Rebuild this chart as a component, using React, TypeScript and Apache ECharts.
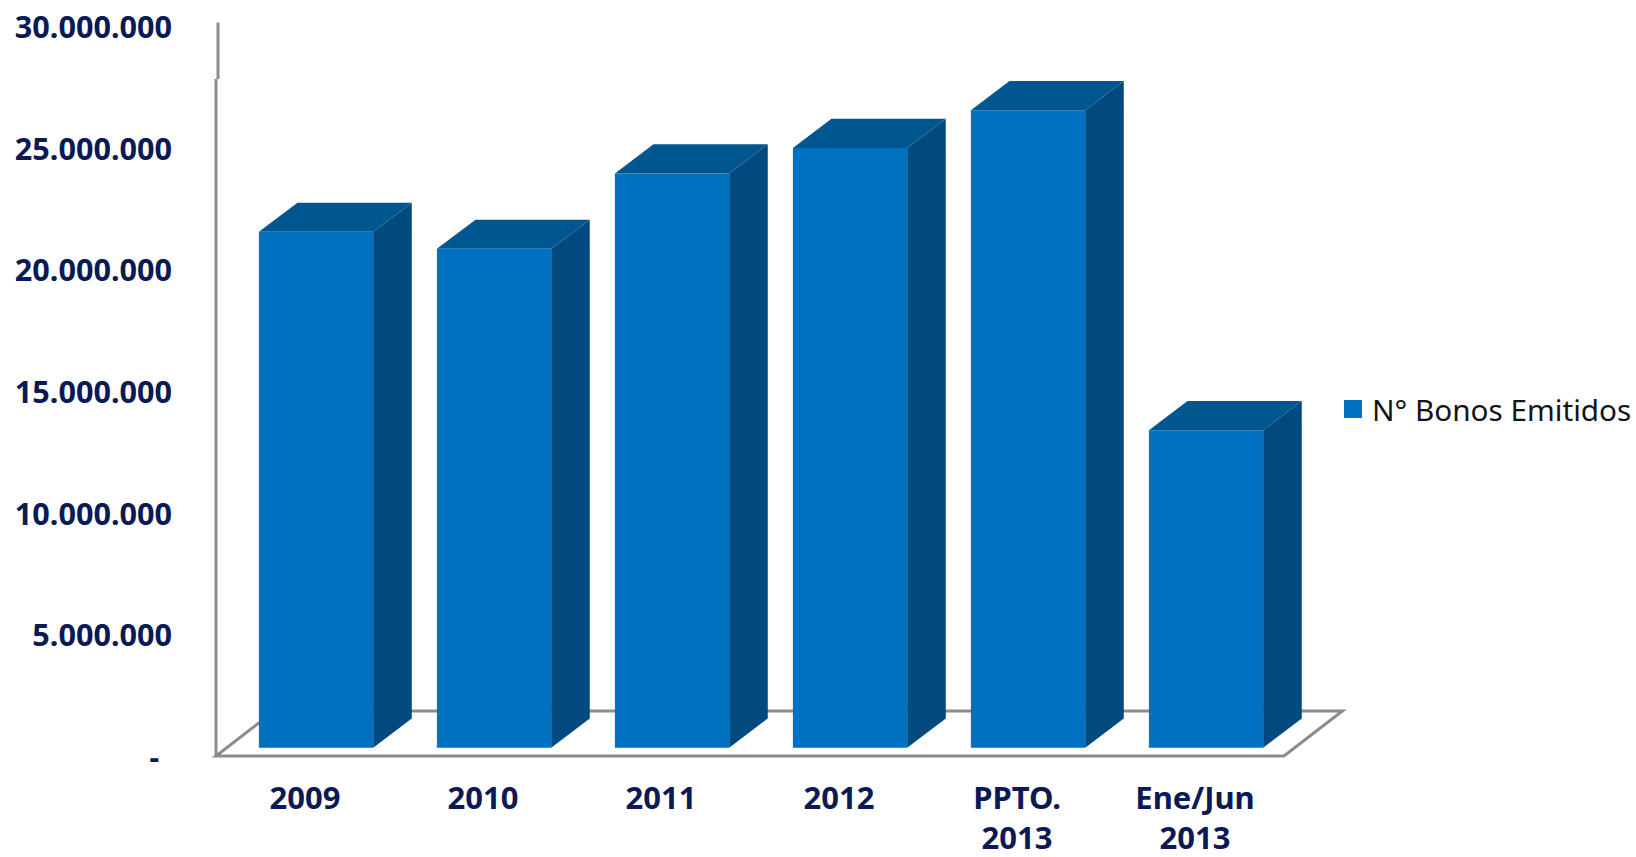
import React, { useEffect, useRef } from "react";
import * as echarts from "echarts";

const categories = ["2009", "2010", "2011", "2012", "PPTO.\n2013", "Ene/Jun\n2013"];
const bonosEmitidos = [21200000, 20500000, 23600000, 24650000, 26200000, 13050000];
const seriesName = "N° Bonos Emitidos";
const FRONT = "#0070c0";
const TOP = "#00568f";
const SIDE = "#004a7f";
const AXIS = "#8c8c8c";
const LABEL = "#0b1a55";
const FONT = "'Noto Sans', sans-serif";

function formatTick(v: number) {
  if (v === 0) return "{dash|-}";
  return String(v).replace(/\B(?=(\d{3})+(?!\d))/g, ".");
}

function renderBar(_: any, api: any) {
  const band = api.size([1, 0])[0];
  const w = band * 0.642;
  const [cx] = api.coord([api.value(0), 0]);
  const [, y0] = api.coord([api.value(0), 0]);
  const [, y1] = api.coord([api.value(0), api.value(1)]);
  const x0 = cx - w / 2 + band * 0.062;
  const x1 = x0 + w;
  const base = y0 - 8.3;
  const top = y1 - 8.3;
  const dx = 38.6;
  const dy = 29.2;
  return {
    type: "group",
    children: [
      { type: "polygon", shape: { points: [[x1, top], [x1 + dx, top - dy], [x1 + dx, base - dy], [x1, base]] }, style: { fill: SIDE } },
      { type: "polygon", shape: { points: [[x0, top], [x0 + dx, top - dy], [x1 + dx, top - dy], [x1, top]] }, style: { fill: TOP } },
      { type: "rect", shape: { x: x0, y: top, width: w, height: base - top }, style: { fill: FRONT } },
    ],
  };
}

function renderFrame(params: any) {
  const { x, y, width, height } = params.coordSys;
  const L = x;
  const R = x + width;
  const B = y + height;
  const fdx = 58.4;
  const fdy = 45;
  const stroke = { stroke: AXIS, lineWidth: 3 };
  return {
    type: "group",
    children: [
      { type: "polygon", shape: { points: [[L, B], [R, B], [R + fdx, B - fdy], [L + fdx, B - fdy]] }, style: { fill: "#ffffff", ...stroke } },
      { type: "line", shape: { x1: L, y1: B, x2: L, y2: y + 53 }, style: stroke },
      { type: "line", shape: { x1: L + 2, y1: y + 53, x2: L + 2, y2: y - 3.5 }, style: stroke },
    ],
  };
}

export default function App() {
  const ref = useRef<HTMLDivElement>(null);
  useEffect(() => {
    document.body.style.margin = "0";
    const chart = echarts.init(ref.current!, undefined, { renderer: "svg" });
    chart.setOption({
      animation: false,
      backgroundColor: "#ffffff",
      grid: { left: 216, top: 26, width: 1068, height: 730, containLabel: false, outerBoundsMode: "none" },
      xAxis: {
        type: "category",
        data: categories,
        axisLine: { show: false },
        axisTick: { show: false },
        axisLabel: {
          margin: 21,
          fontFamily: FONT,
          fontWeight: "bold",
          fontSize: 31,
          lineHeight: 40,
          color: LABEL,
          interval: 0,
        },
      },
      yAxis: {
        type: "value",
        min: 0,
        max: 30000000,
        interval: 5000000,
        axisLine: { show: false },
        axisTick: { show: false },
        splitLine: { show: false },
        axisLabel: {
          margin: 44,
          fontFamily: FONT,
          fontWeight: "bold",
          fontSize: 30.6,
          color: LABEL,
          formatter: formatTick,
          rich: { dash: { fontFamily: FONT, fontWeight: "bold", fontSize: 30, color: LABEL, padding: [0, 13, 0, 0] } },
        },
      },
      legend: {
        data: [seriesName],
        left: 1344,
        top: 394,
        padding: 0,
        itemWidth: 18,
        itemHeight: 18,
        icon: "rect",
        textStyle: { fontFamily: FONT, fontSize: 29.7, color: "#141414", padding: [0, 0, 0, 5] },
      },
      series: [
        {
          type: "custom",
          name: "frame",
          silent: true,
          renderItem: renderFrame,
          data: [0],
          encode: { x: 0 },
          z: 1,
        },
        {
          type: "custom",
          name: seriesName,
          itemStyle: { color: FRONT },
          renderItem: renderBar,
          encode: { x: 0, y: 1 },
          data: bonosEmitidos.map((v, i) => [i, v]),
          z: 2,
        },
      ],
    });
    return () => chart.dispose();
  }, []);
  return <div ref={ref} style={{ width: 1636, height: 857 }} />;
}
